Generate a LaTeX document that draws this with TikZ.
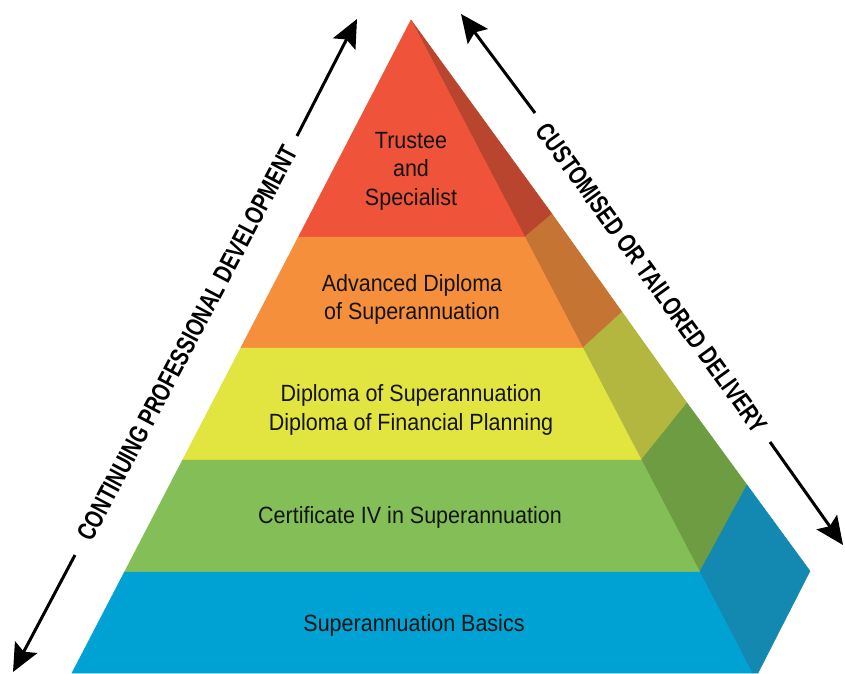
\documentclass[tikz,border=0pt]{standalone}
\usepackage{fontspec}
\setmainfont{Liberation Sans}[FakeStretch=0.915]
\newfontfamily\capfont{Liberation Sans}[FakeStretch=0.76]
\usetikzlibrary{arrows.meta}
\definecolor{redF}{HTML}{EF5339}
\definecolor{redS}{HTML}{B9452F}
\definecolor{orgF}{HTML}{F58F3C}
\definecolor{orgS}{HTML}{C57434}
\definecolor{yelF}{HTML}{E2E43F}
\definecolor{yelS}{HTML}{B3B73F}
\definecolor{grnF}{HTML}{83BF56}
\definecolor{grnS}{HTML}{6E9C43}
\definecolor{bluF}{HTML}{00A1D3}
\definecolor{bluS}{HTML}{1388B0}
\definecolor{ink}{HTML}{141414}
\begin{document}
\begin{tikzpicture}[x=1pt,y=-1pt,
  facet/.style={fill=#1,draw=#1,line width=0.5pt,line join=miter},
  lbl/.style={text=ink,align=center,inner sep=0pt,font=\fontsize{23.5}{28.5}\selectfont},
  sidecap/.style={text=black,inner sep=0pt,font=\capfont\bfseries\fontsize{26}{26}\selectfont},
  arr/.style={line width=3pt,black,-{Stealth[length=28pt,width=25pt,inset=5pt]}}]
\useasboundingbox (0,0) rectangle (845,673);
\fill[white] (0,0) rectangle (845,673);
% coordinates of pyramid
\coordinate (A) at (411,20);
\coordinate (L1) at (298.4,237);  \coordinate (R1) at (524.8,237); \coordinate (O1) at (552,214);
\coordinate (L2) at (240.7,348);  \coordinate (R2) at (582.8,348); \coordinate (O2) at (622,312);
\coordinate (L3) at (182.6,460);  \coordinate (R3) at (641.3,460); \coordinate (O3) at (687,403);
\coordinate (L4) at (124.5,572);  \coordinate (R4) at (699.7,572); \coordinate (O4) at (747,485);
\coordinate (L5) at (72,673);     \coordinate (R5) at (752,673);   \coordinate (O5) at (810,571);
\coordinate (B5) at (758,673);
% side facets
\path[facet=redS] (A) -- (O1) -- (R1) -- cycle;
\path[facet=orgS] (R1) -- (O1) -- (O2) -- (R2) -- cycle;
\path[facet=yelS] (R2) -- (O2) -- (O3) -- (R3) -- cycle;
\path[facet=grnS] (R3) -- (O3) -- (O4) -- (R4) -- cycle;
\path[facet=bluS] (R4) -- (O4) -- (O5) -- (B5) -- (R5) -- cycle;
% front bands
\path[facet=redF] (A) -- (R1) -- (L1) -- cycle;
\path[facet=orgF] (L1) -- (R1) -- (R2) -- (L2) -- cycle;
\path[facet=yelF] (L2) -- (R2) -- (R3) -- (L3) -- cycle;
\path[facet=grnF] (L3) -- (R3) -- (R4) -- (L4) -- cycle;
\path[facet=bluF] (L4) -- (R4) -- (R5) -- (L5) -- cycle;
% labels
\node[lbl] (n1) at (411,171) {Trustee\\and\\Specialist};
\node[lbl] (n2) at (412,299.5) {Advanced Diploma\\of Superannuation};
\node[lbl] (n3) at (411,410) {Diploma of Superannuation\\Diploma of Financial Planning};
\node[lbl] (n4) at (410,517.5) {Certificate IV in Superannuation};
\node[lbl] (n5) at (414,625.5) {Superannuation Basics};
% side captions
\node[sidecap,rotate=62.18] (cpd) at (187,343) {CONTINUING PROFESSIONAL DEVELOPMENT};
\node[sidecap,rotate=-54.15] (ctd) at (652,278) {CUSTOMISED OR TAILORED DELIVERY};
% arrows
\coordinate (la1) at (75,555);  \coordinate (la1t) at (13,672);
\coordinate (la2) at (297,136); \coordinate (la2t) at (357,19);
\coordinate (ra1) at (535,113); \coordinate (ra1t) at (461,14);
\coordinate (ra2) at (770,442); \coordinate (ra2t) at (843,545);
\draw[arr] (la1) -- (la1t);
\draw[arr] (la2) -- (la2t);
\draw[arr] (ra1) -- (ra1t);
\draw[arr] (ra2) -- (ra2t);
\end{tikzpicture}
\end{document}
